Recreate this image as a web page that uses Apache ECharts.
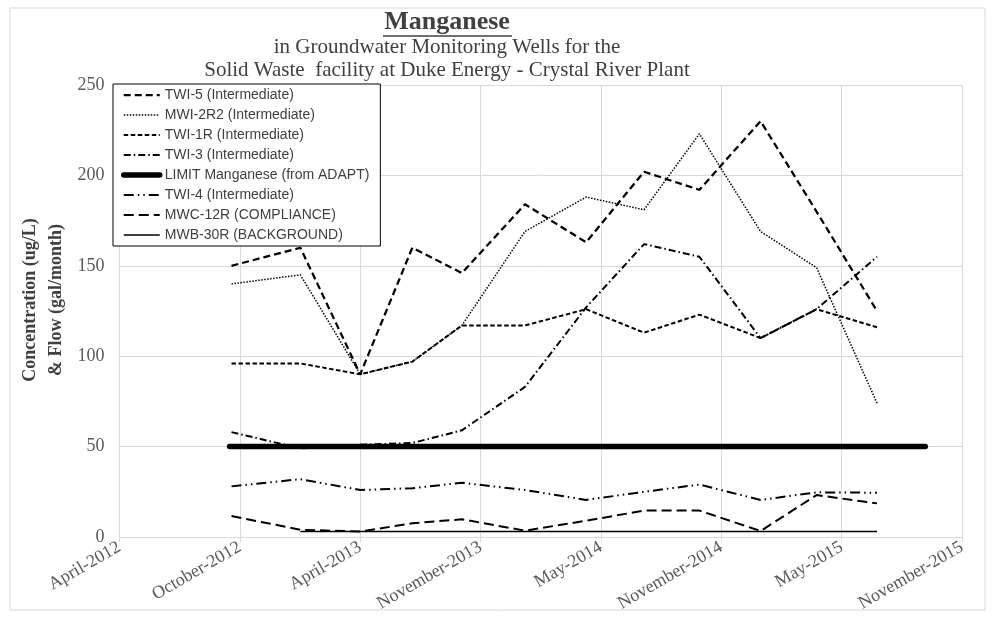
<!DOCTYPE html>
<html>
<head>
<meta charset="utf-8">
<script src="https://cdn.jsdelivr.net/npm/echarts@6/dist/echarts.min.js"></script>
<style>
html,body{margin:0;padding:0;background:#fff;}
#chart{width:994px;height:618px;}
</style>
</head>
<body>
<div id="chart"></div>
<script>
// ---- data ----
const sampleDates = ['2012-10-11','2013-01-26','2013-04-29','2013-07-19','2013-10-04','2014-01-10',
                     '2014-04-15','2014-07-14','2014-10-08','2015-01-11','2015-04-08','2015-07-11'];
const twi5    = [150, 160, 90, 160, 146, 184, 163, 202, 192, 230, 180, 125];
const mwi2r2  = [140, 145, 90,  97, 117, 169, 188, 181, 223, 169, 149,  74];
const twi1r   = [ 96,  96, 90,  97, 117, 117, 126, 113, 123, 110, 126, 116];
const twi3    = [ 58,  49, 51,  52,  59,  83, 127, 162, 155, 110, 126, 155];
const twi4    = [ 28,  32, 26,  27,  30,  26,  20.5, 25,  29,  20.5, 24.7, 24.5];
const mwc12r  = [11.6,  4,  3, 7.6, 9.8, 3.5,   9, 14.6, 14.6, 3.3, 23.2, 18.6];
const mwb30r  = [null,  3,  3,   3,   3,   3,   3,   3,   3,   3,   3,   3];
const limitDates  = ['2012-10-08','2015-09-24'];
const limitValues = [50, 50];
const xTickLabels = ['April-2012','October-2012','April-2013','November-2013','May-2014','November-2014','May-2015','November-2015'];
const axisStartDate = '2012-04-20';
const tickStepDays = 187;
const yMin = 0, yMax = 250, yStep = 50;

// ---- helpers ----
const DAY = 86400000;
function dayOffset(d){ return (Date.parse(d) - Date.parse(axisStartDate)) / DAY; }
function pairs(dates, vals){ return dates.map((d,i)=>[dayOffset(d), vals[i]]); }

const serif = 'Liberation Serif, Times New Roman, serif';
const sans = 'Liberation Sans, Arial, sans-serif';

function lineSeries(name, vals, width, type, extra){
  return Object.assign({
    name: name, type: 'line', symbol: 'none', showSymbol: false,
    data: pairs(sampleDates, vals), connectNulls: false,
    lineStyle: {color: '#000', width: width, type: type},
    itemStyle: {color: '#000'},
    emphasis: {disabled: true}, animation: false
  }, extra || {});
}

const chart = echarts.init(document.getElementById('chart'), null, {renderer: 'canvas'});
chart.setOption({
  animation: false,
  backgroundColor: '#fff',
  grid: {left: 119.5, right: 32, top: 85, bottom: 81, containLabel: false, outerBoundsMode: 'none'},
  graphic: [
    {type: 'rect', shape: {x: 10, y: 8, width: 975, height: 602}, style: {fill: 'none', stroke: '#d9d9d9', lineWidth: 1}, z: -1, silent: true},
    {type: 'text', x: 447, y: 22, style: {text: 'Manganese', fontFamily: serif, fontWeight: 'bold', fontSize: 26, fill: '#404040', align: 'center', verticalAlign: 'middle'}},
    {type: 'line', shape: {x1: 383, y1: 36, x2: 512, y2: 36}, style: {stroke: '#404040', lineWidth: 1.5}},
    {type: 'text', x: 447, y: 47, style: {text: 'in Groundwater Monitoring Wells for the', fontFamily: serif, fontSize: 21, fill: '#404040', align: 'center', verticalAlign: 'middle'}},
    {type: 'text', x: 447, y: 70, style: {text: 'Solid Waste  facility at Duke Energy - Crystal River Plant', fontFamily: serif, fontSize: 21, fill: '#404040', align: 'center', verticalAlign: 'middle'}},
    {type: 'text', x: 43, y: 300, rotation: Math.PI/2,
     style: {text: 'Concentration (ug/L)\n& Flow (gal/month)', fontFamily: serif, fontWeight: 'bold', fontSize: 18, lineHeight: 26, fill: '#404040', align: 'center', verticalAlign: 'middle'}}
  ],
  legend: {
    orient: 'vertical', left: 113, top: 84,
    padding: [4, 11, 4, 8],
    itemGap: 6, itemWidth: 36, itemHeight: 14,
    backgroundColor: '#fff', borderColor: '#000', borderWidth: 1, borderRadius: 0,
    itemStyle: {opacity: 0},
    lineStyle: {width: 'inherit', type: 'inherit', cap: 'inherit'},
    textStyle: {fontFamily: sans, fontSize: 14, color: '#404040'},
    selectedMode: false,
    data: ['TWI-5 (Intermediate)','MWI-2R2 (Intermediate)','TWI-1R (Intermediate)','TWI-3 (Intermediate)',
           'LIMIT Manganese (from ADAPT)','TWI-4 (Intermediate)','MWC-12R (COMPLIANCE)','MWB-30R (BACKGROUND)']
  },
  xAxis: {
    type: 'value', min: 0, max: tickStepDays * (xTickLabels.length - 1), interval: tickStepDays,
    axisLine: {show: true, lineStyle: {color: '#d9d9d9', width: 1}},
    axisTick: {show: true, length: 5, lineStyle: {color: '#d9d9d9'}},
    splitLine: {show: true, lineStyle: {color: '#d9d9d9', width: 1}},
    axisLabel: {
      rotate: 30, margin: 9, fontFamily: serif, fontSize: 18, color: '#595959',
      showMinLabel: true, showMaxLabel: true, hideOverlap: false,
      formatter: function(v){ return xTickLabels[Math.round(v / tickStepDays)] || ''; }
    }
  },
  yAxis: {
    type: 'value', min: yMin, max: yMax, interval: yStep,
    axisLine: {show: false},
    axisTick: {show: false},
    splitLine: {show: true, lineStyle: {color: '#d9d9d9', width: 1}},
    axisLabel: {margin: 15, fontFamily: serif, fontSize: 18, color: '#595959'}
  },
  series: [
    lineSeries('TWI-5 (Intermediate)', twi5, 2.25, [7, 4]),
    lineSeries('MWI-2R2 (Intermediate)', mwi2r2, 1.5, [1.5, 1.5]),
    lineSeries('TWI-1R (Intermediate)', twi1r, 2, [4.5, 2.5]),
    lineSeries('TWI-3 (Intermediate)', twi3, 2, [7, 3, 1.5, 3]),
    {
      name: 'LIMIT Manganese (from ADAPT)', type: 'line', symbol: 'none', showSymbol: false,
      data: pairs(limitDates, limitValues),
      lineStyle: {color: '#000', width: 5.5, type: 'solid', cap: 'round'},
      itemStyle: {color: '#000'}, emphasis: {disabled: true}, animation: false, z: 1
    },
    lineSeries('TWI-4 (Intermediate)', twi4, 2, [10, 4, 1.5, 4, 1.5, 4]),
    lineSeries('MWC-12R (COMPLIANCE)', mwc12r, 2, [10, 5]),
    lineSeries('MWB-30R (BACKGROUND)', mwb30r, 1.5, 'solid')
  ]
});
</script>
</body>
</html>
